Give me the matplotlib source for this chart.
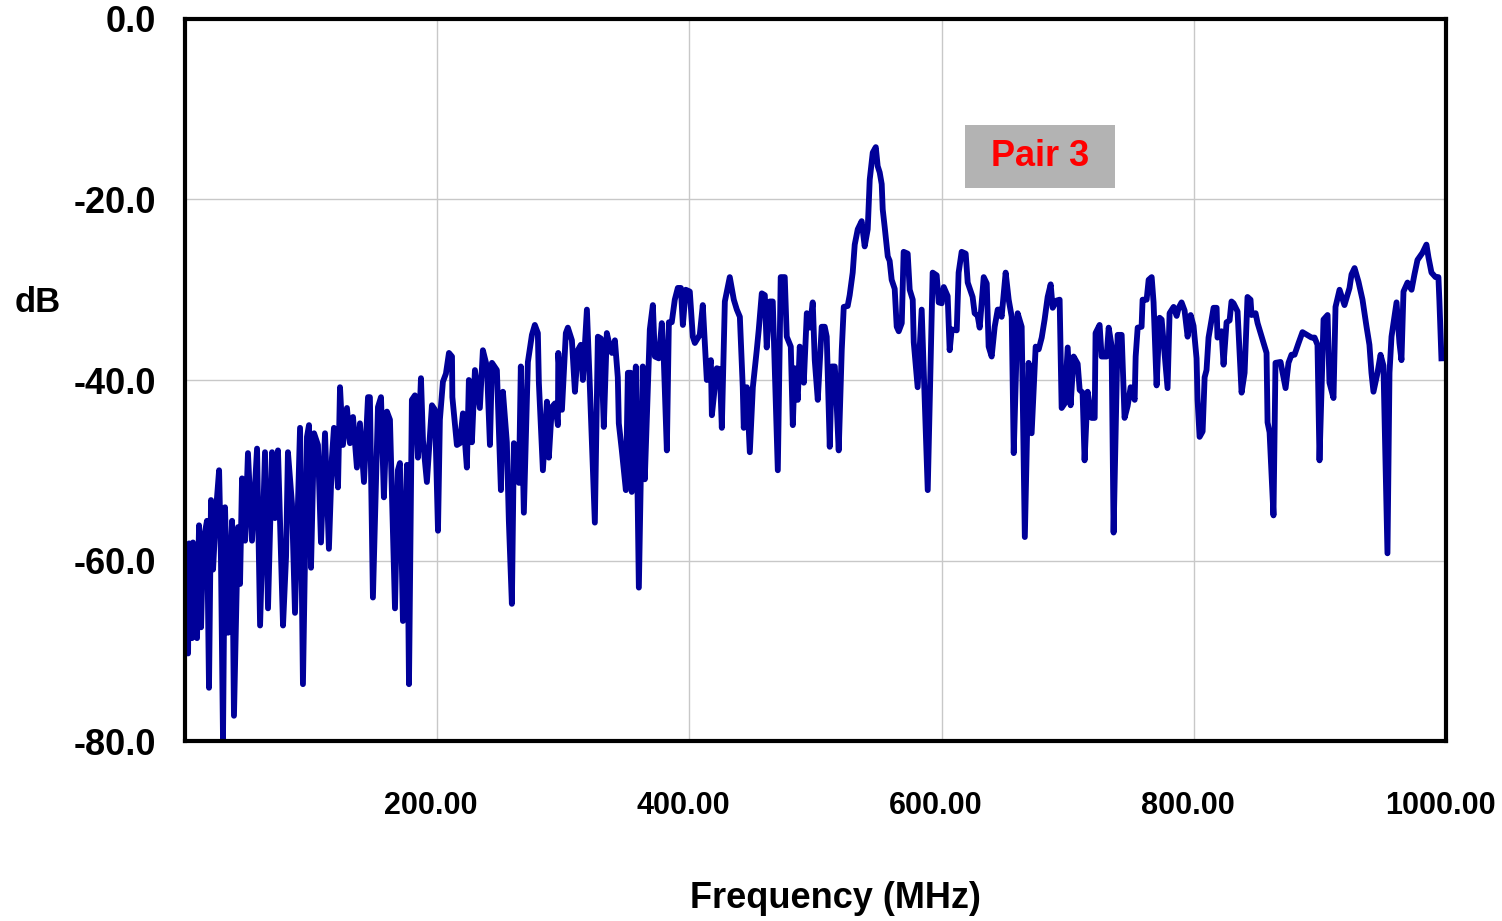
import matplotlib
matplotlib.use('Agg')
import matplotlib.pyplot as plt
from matplotlib.patches import Rectangle
from matplotlib.transforms import ScaledTranslation

plt.rcParams['font.family'] = ['Liberation Sans', 'DejaVu Sans']

# (frequency MHz, level dB), split in chunks
trace_a = [(0.5, -69.5), (2.4, -70.3), (3.2, -58.1), (5.5, -68.6), (6.3, -58.0), (9.5, -68.6),
           (11.1, -56.1), (12.7, -67.4), (14.3, -58.0), (17.4, -55.6), (19.0, -74.1), (20.6, -53.3),
           (22.2, -61.0), (24.6, -54.4), (27.0, -50.0), (28.5, -60.0), (30.1, -79.7), (31.7, -54.1),
           (34.1, -68.0), (37.3, -55.6), (38.8, -77.2), (42.0, -56.3), (43.6, -62.6), (45.2, -50.9),
           (47.6, -57.8), (49.9, -48.1), (53.1, -57.8), (57.1, -47.6), (59.5, -67.2), (63.4, -48.0),
           (65.8, -65.3), (69.0, -48.0), (71.3, -55.3), (73.7, -47.8), (77.7, -67.2), (80.1, -59.6),
           (81.6, -48.0), (84.8, -53.7), (87.2, -65.8), (91.2, -45.3), (93.5, -73.7), (96.7, -46.3),
           (98.3, -45.0), (99.9, -60.8), (102.3, -45.9), (105.4, -47.2), (107.8, -58.0), (111.0, -45.9),
           (114.1, -58.7), (116.5, -48.6), (118.1, -45.3), (121.3, -51.9), (122.9, -40.8), (125.2, -47.2),
           (128.4, -43.1), (130.8, -47.0), (133.2, -44.1), (136.3, -49.7), (138.7, -44.8), (141.9, -51.3),
           (145.1, -41.9), (146.6, -41.9), (149.0, -64.1), (153.0, -43.0), (155.4, -41.9), (157.7, -53.0),
           (160.1, -43.5), (162.5, -44.4), (166.5, -65.3), (168.8, -50.0)]

trace_b = [(170.4, -49.2), (172.8, -66.7), (176.0, -49.4), (177.6, -73.7), (179.9, -42.2), (182.3, -41.7),
           (184.7, -48.6), (187.1, -39.8), (188.7, -46.7), (191.8, -51.3), (195.8, -42.8), (198.2, -43.3),
           (200.6, -56.7), (202.1, -44.4), (204.5, -40.2), (206.9, -39.3), (209.3, -37.0), (211.7, -37.4),
           (212.0, -41.9), (215.6, -47.2), (218.0, -47.0), (220.4, -43.7), (223.5, -49.7), (225.1, -40.0),
           (227.5, -46.9), (229.9, -38.9), (233.8, -43.1), (236.2, -36.7), (239.4, -38.5), (241.8, -47.2),
           (243.4, -38.1), (247.3, -38.9), (250.5, -52.2), (252.1, -41.3), (255.2, -46.9), (256.8, -55.6),
           (259.2, -64.8), (260.8, -47.0), (264.8, -51.4), (266.3, -38.5), (268.7, -54.7), (271.9, -38.0),
           (275.1, -35.0), (277.4, -33.9), (279.8, -34.8), (280.6, -40.3), (283.8, -50.0), (287.0, -42.4),
           (288.5, -48.6), (290.9, -43.0), (293.3, -42.6), (295.7, -45.0), (296.0, -37.0), (298.9, -43.3),
           (302.0, -34.8), (303.6, -34.2), (306.8, -35.6), (309.2, -41.3), (311.5, -36.7), (313.9, -36.1),
           (315.5, -40.0), (318.7, -32.2), (321.0, -40.6), (325.0, -55.8), (327.4, -35.2), (329.8, -35.4),
           (332.1, -45.2), (334.5, -34.8), (336.9, -36.3)]

trace_c = [(338.5, -37.0), (340.9, -35.6), (343.2, -39.7), (344.0, -44.8), (346.4, -47.8), (349.6, -52.2),
           (351.2, -39.2), (353.5, -39.2), (354.3, -52.4), (357.5, -38.5), (359.9, -63.0), (363.0, -38.5),
           (364.6, -51.0), (368.6, -34.4), (371.0, -31.7), (372.6, -37.4), (375.7, -37.6), (378.1, -33.7),
           (379.7, -37.8), (382.1, -47.8), (383.7, -33.6), (386.0, -33.6), (388.4, -31.1), (390.8, -29.8),
           (393.2, -29.8), (394.8, -33.9), (397.1, -30.0), (400.3, -30.2), (402.7, -35.2), (404.3, -35.9),
           (408.2, -35.0), (410.6, -31.7), (413.8, -40.0), (417.0, -37.8), (417.8, -43.9), (421.7, -38.7),
           (424.1, -38.8), (425.7, -45.3), (428.1, -31.3), (432.0, -28.6), (435.2, -31.1), (437.6, -32.2),
           (440.0, -33.0), (442.3, -40.8), (443.1, -45.3), (445.5, -40.8), (447.9, -48.0), (450.3, -40.8),
           (453.4, -36.7), (455.0, -34.4), (457.4, -30.4), (459.8, -30.6), (461.3, -36.4), (463.7, -31.3),
           (466.1, -31.3), (470.1, -50.0), (472.4, -28.6), (475.6, -28.6), (477.2, -35.2), (480.4, -36.3),
           (482.0, -45.0), (483.5, -38.7), (485.9, -42.2), (487.5, -36.3), (490.7, -40.3), (493.1, -32.6),
           (495.4, -34.2), (497.8, -31.4), (499.4, -37.8), (501.8, -42.2)]

trace_d = [(504.9, -34.1), (507.3, -34.1), (508.9, -35.2), (511.3, -47.4), (512.9, -38.5), (515.3, -38.5),
           (516.0, -40.3), (518.4, -47.8), (520.8, -36.7), (522.4, -31.9), (525.5, -31.8), (527.1, -30.6),
           (529.5, -28.1), (531.1, -25.0), (533.5, -23.3), (536.6, -22.4), (539.0, -25.2), (541.4, -23.3),
           (543.0, -17.8), (545.4, -14.8), (547.8, -14.2), (549.3, -16.3), (550.9, -17.0), (552.5, -18.3),
           (553.3, -21.1), (554.9, -23.1), (557.3, -26.3), (558.8, -26.8), (560.4, -28.9), (562.8, -29.9),
           (564.4, -34.1), (566.0, -34.6), (568.4, -33.7), (569.9, -25.8), (573.1, -26.0), (574.7, -30.0),
           (577.1, -31.1), (577.9, -35.8), (581.0, -40.8), (584.2, -32.2), (589.0, -52.2), (592.9, -28.1),
           (596.1, -28.4), (597.7, -31.4), (600.1, -31.5), (601.7, -29.7), (604.8, -30.7), (606.4, -36.7),
           (608.0, -34.4), (612.0, -34.5), (613.5, -28.1), (615.9, -25.8), (619.1, -26.0), (620.7, -29.2),
           (624.6, -30.8), (626.2, -32.6), (628.6, -32.9), (630.2, -34.2), (633.4, -28.6), (635.8, -29.3),
           (637.3, -36.3), (639.7, -37.4), (642.1, -34.1), (644.5, -32.2), (646.1, -32.2), (647.6, -33.0),
           (650.8, -28.1), (653.2, -31.1), (655.6, -33.0), (657.2, -48.1), (660.3, -32.6), (663.5, -34.1),
           (666.0, -57.4), (669.0, -38.1)]

trace_e = [(671.4, -45.9), (674.6, -36.3), (677.0, -36.6), (679.4, -35.3), (681.7, -33.3), (684.1, -30.8),
           (686.5, -29.4), (688.1, -32.0), (691.2, -31.2), (693.6, -31.1), (695.2, -43.1), (697.6, -42.6),
           (700.0, -36.4), (702.3, -42.8), (704.7, -37.4), (707.9, -38.2), (709.5, -41.1), (711.8, -41.4),
           (713.4, -48.9), (715.8, -41.3), (719.0, -44.2), (721.4, -44.2), (722.1, -34.8), (725.3, -33.9),
           (726.9, -37.4), (730.9, -37.4), (732.5, -34.2), (734.8, -36.2), (736.4, -56.9), (739.6, -35.0),
           (742.8, -35.0), (745.1, -44.2), (747.5, -42.9), (749.9, -40.8), (753.1, -42.2), (753.9, -37.4),
           (755.5, -34.2), (758.6, -34.1), (759.4, -31.1), (762.6, -31.1), (764.2, -28.9), (766.6, -28.6),
           (768.1, -31.4), (770.5, -40.6), (772.9, -33.1), (774.5, -33.3), (776.9, -37.2), (779.2, -40.9),
           (780.8, -32.6), (784.0, -31.9), (786.4, -32.9), (788.0, -32.0), (790.3, -31.4), (792.7, -32.3),
           (795.1, -35.2), (797.5, -32.8), (799.8, -34.0), (802.2, -37.6), (803.0, -42.2), (804.6, -46.3),
           (807.0, -45.7), (808.6, -39.7), (810.1, -38.9), (811.7, -35.3), (814.1, -33.3), (815.7, -32.0),
           (818.1, -32.0), (818.8, -35.3), (822.0, -34.6), (823.6, -38.3), (826.0, -33.6), (828.4, -33.4),
           (829.9, -31.3), (831.5, -31.5)]

trace_f = [(834.7, -32.4), (837.9, -41.4), (840.3, -39.2), (842.6, -30.8), (845.0, -31.1), (845.8, -32.8),
           (849.0, -32.6), (850.6, -33.7), (855.3, -35.9), (857.7, -37.0), (858.5, -44.7), (860.1, -45.8),
           (863.2, -55.0), (864.8, -38.1), (868.8, -38.0), (872.8, -40.9), (875.1, -38.1), (877.5, -37.2),
           (879.9, -37.2), (883.1, -35.9), (886.2, -34.7), (888.6, -34.9), (893.4, -35.3), (895.8, -35.3),
           (898.1, -36.1), (899.7, -48.9), (902.9, -33.3), (906.1, -32.8), (907.6, -40.3), (910.8, -42.0),
           (912.4, -31.9), (915.6, -30.0), (919.5, -31.7), (923.5, -29.8), (925.1, -28.3), (927.5, -27.6),
           (930.6, -29.1), (933.8, -31.1), (937.0, -34.1), (939.3, -36.1), (940.9, -39.2), (942.5, -41.3),
           (945.7, -39.2), (948.1, -37.2), (950.4, -38.4), (953.6, -59.2), (955.2, -39.2), (956.8, -35.2),
           (960.8, -31.4), (963.1, -35.9), (964.7, -37.8), (966.3, -30.2), (969.5, -29.2), (972.7, -30.0),
           (975.0, -28.3), (977.4, -26.7), (981.4, -25.9), (984.5, -25.0), (986.1, -26.4), (988.5, -28.1),
           (991.7, -28.6), (994.0, -28.6), (994.8, -31.3), (996.4, -37.6)]

trace = trace_a + trace_b + trace_c + trace_d + trace_e + trace_f
freq = [p[0] for p in trace]
db = [p[1] for p in trace]

xticks = [200, 400, 600, 800, 1000]
xtick_labels = ['200.00', '400.00', '600.00', '800.00', '1000.00']
yticks = [0, -20, -40, -60, -80]
ytick_labels = ['0.0', '-20.0', '-40.0', '-60.0', '-80.0']

fig = plt.figure(figsize=(15.02, 9.21), dpi=100)
ax = fig.add_axes([0.1232, 0.1954, 0.8395, 0.7840])

ax.plot(freq, db, color='#000099', lw=4.2, solid_joinstyle='round')

ax.set_xlim(0, 1000)
ax.set_ylim(-80, 0)
ax.set_xticks(xticks)
ax.set_xticklabels(xtick_labels, fontsize=22, fontweight='bold')
ax.set_yticks(yticks)
ax.set_yticklabels(ytick_labels, fontsize=26, fontweight='bold')
ax.tick_params(axis='x', length=0, pad=36)
ax.tick_params(axis='y', length=0, pad=21)
# x labels sit a little left of their grid lines
shift = ScaledTranslation(-6 / 100, 0, fig.dpi_scale_trans)
for lab in ax.get_xticklabels():
    lab.set_transform(lab.get_transform() + shift)
ax.grid(True, color='#c8c8c8', lw=1)
ax.set_axisbelow(True)
for s in ax.spines.values():
    s.set_linewidth(3)
    s.set_color('black')

ax.set_xlabel('Frequency (MHz)', fontsize=26, fontweight='bold', va='center')
ax.xaxis.set_label_coords(0.5155, -0.2175)
ax.set_ylabel('dB', fontsize=25, fontweight='bold', rotation=0, va='center', ha='center')
ax.yaxis.set_label_coords(-0.1166, 0.608)

# label box
ax.add_patch(Rectangle((0.6185, 0.766), 0.119, 0.0873, transform=ax.transAxes,
                       fc='#b3b3b3', ec='none', zorder=3))
ax.text(0.678, 0.8095, 'Pair 3', transform=ax.transAxes, color='red', fontsize=26,
        fontweight='bold', ha='center', va='center', zorder=4)

fig.savefig('out.png', dpi=100)
